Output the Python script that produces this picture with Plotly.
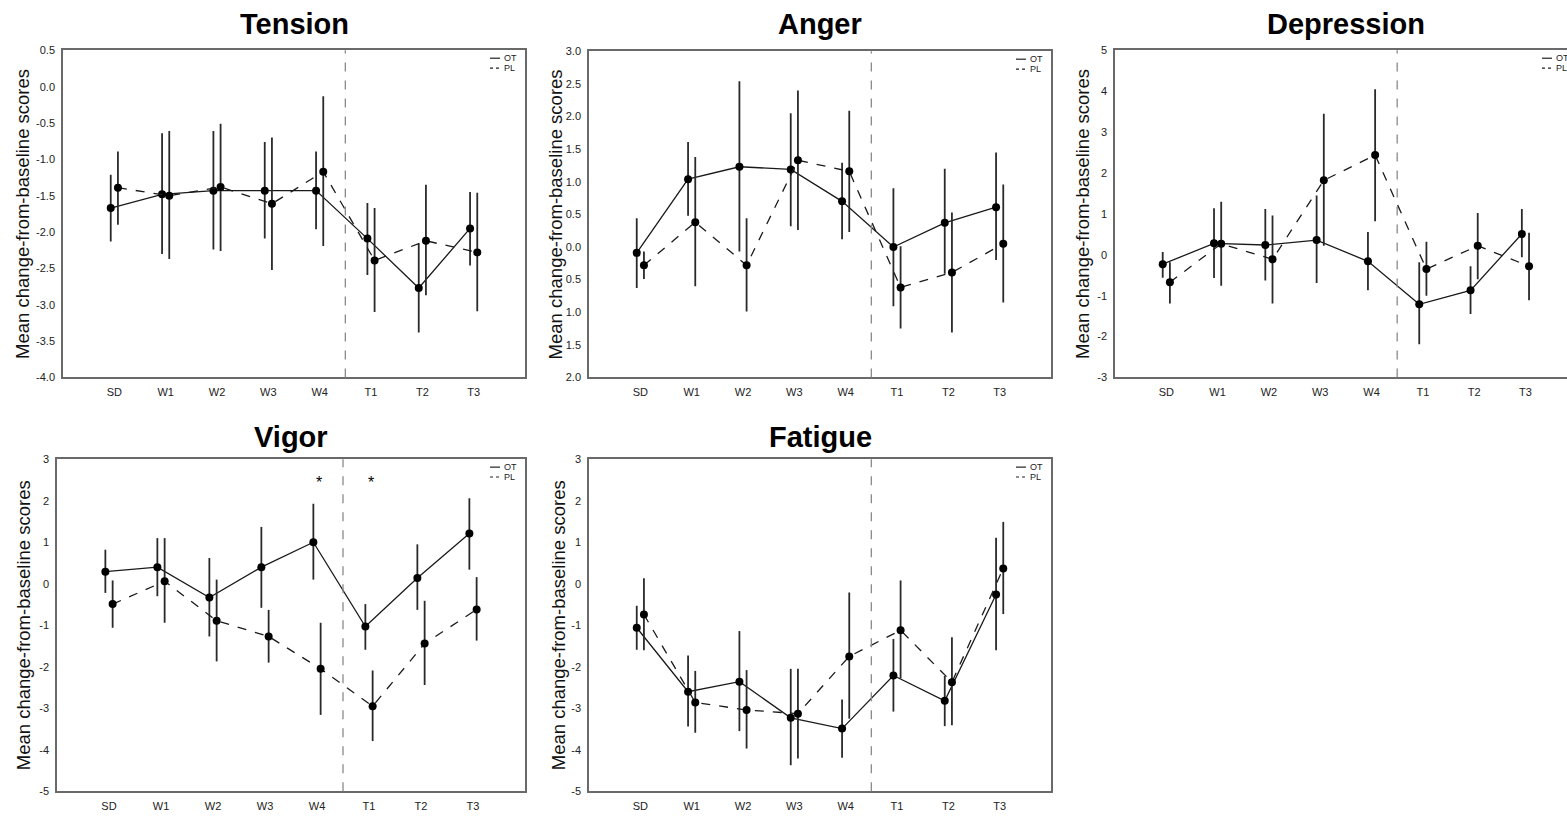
import plotly.graph_objects as go

W, H = 1567, 817

categories = ["SD", "W1", "W2", "W3", "W4", "T1", "T2", "T3"]

# ---- Tension ----
tension_ot_mean = [-1.67, -1.48, -1.43, -1.43, -1.43, -2.09, -2.77, -1.95]
tension_ot_low = [-2.13, -2.30, -2.24, -2.09, -1.96, -2.59, -3.38, -2.46]
tension_ot_high = [-1.21, -0.64, -0.61, -0.76, -0.89, -1.60, -2.16, -1.45]
tension_pl_mean = [-1.39, -1.50, -1.38, -1.61, -1.17, -2.39, -2.12, -2.28]
tension_pl_low = [-1.90, -2.37, -2.26, -2.52, -2.19, -3.10, -2.87, -3.09]
tension_pl_high = [-0.89, -0.61, -0.51, -0.70, -0.13, -1.67, -1.35, -1.46]

# ---- Anger ----
anger_ot_mean = [-0.09, 1.04, 1.23, 1.19, 0.70, 0.00, 0.37, 0.61]
anger_ot_low = [-0.63, 0.48, -0.07, 0.32, 0.12, -0.91, -0.41, -0.20]
anger_ot_high = [0.44, 1.61, 2.54, 2.05, 1.29, 0.90, 1.20, 1.45]
anger_pl_mean = [-0.28, 0.38, -0.28, 1.33, 1.16, -0.62, -0.39, 0.05]
anger_pl_low = [-0.49, -0.60, -0.99, 0.26, 0.23, -1.25, -1.31, -0.85]
anger_pl_high = [-0.07, 1.38, 0.44, 2.40, 2.09, 0.01, 0.53, 0.96]

# ---- Depression ----
depression_ot_mean = [-0.23, 0.28, 0.24, 0.36, -0.16, -1.21, -0.87, 0.51]
depression_ot_low = [-0.56, -0.57, -0.63, -0.69, -0.87, -2.19, -1.45, -0.06]
depression_ot_high = [0.07, 1.14, 1.12, 1.45, 0.56, -0.18, -0.28, 1.12]
depression_pl_mean = [-0.67, 0.27, -0.11, 1.82, 2.44, -0.35, 0.22, -0.28]
depression_pl_low = [-1.19, -0.76, -1.19, 0.22, 0.82, -1.00, -0.60, -1.11]
depression_pl_high = [-0.18, 1.30, 0.96, 3.45, 4.05, 0.32, 1.02, 0.54]

# ---- Vigor ----
vigor_ot_mean = [0.29, 0.40, -0.33, 0.40, 1.00, -1.03, 0.14, 1.21]
vigor_ot_low = [-0.22, -0.30, -1.27, -0.58, 0.10, -1.59, -0.63, 0.34]
vigor_ot_high = [0.82, 1.10, 0.62, 1.37, 1.93, -0.49, 0.95, 2.06]
vigor_pl_mean = [-0.49, 0.06, -0.89, -1.27, -2.05, -2.95, -1.44, -0.62]
vigor_pl_low = [-1.06, -0.94, -1.87, -1.90, -3.16, -3.79, -2.44, -1.37]
vigor_pl_high = [0.08, 1.10, 0.10, -0.63, -0.94, -2.09, -0.41, 0.16]

# ---- Fatigue ----
fatigue_ot_mean = [-1.06, -2.60, -2.36, -3.23, -3.49, -2.21, -2.82, -0.26]
fatigue_ot_low = [-1.59, -3.44, -3.55, -4.37, -4.19, -3.08, -3.43, -1.60]
fatigue_ot_high = [-0.53, -1.73, -1.14, -2.05, -2.79, -1.33, -2.22, 1.11]
fatigue_pl_mean = [-0.74, -2.86, -3.04, -3.13, -1.75, -1.12, -2.37, 0.37]
fatigue_pl_low = [-1.60, -3.59, -3.97, -4.21, -3.25, -2.28, -3.41, -0.73]
fatigue_pl_high = [0.13, -2.10, -2.08, -2.05, -0.21, 0.08, -1.29, 1.49]

# significance markers (Vigor)
vigor_sig_categories = ["W4", "T1"]
vigor_sig_y = 2.45

tension_ticks = [0.5, 0.0, -0.5, -1.0, -1.5, -2.0, -2.5, -3.0, -3.5, -4.0]
tension_ticktext = ["0.5", "0.0", "-0.5", "-1.0", "-1.5", "-2.0", "-2.5", "-3.0", "-3.5", "-4.0"]
anger_ticks = [3.0, 2.5, 2.0, 1.5, 1.0, 0.5, 0.0, -0.5, -1.0, -1.5, -2.0]
anger_ticktext = ["3.0", "2.5", "2.0", "1.5", "1.0", "0.5", "0.0", "0.5", "1.0", "1.5", "2.0"]
depression_ticks = [5, 4, 3, 2, 1, 0, -1, -2, -3]
depression_ticktext = ["5", "4", "3", "2", "1", "0", "-1", "-2", "-3"]
vf_ticks = [3, 2, 1, 0, -1, -2, -3, -4, -5]
vf_ticktext = ["3", "2", "1", "0", "-1", "-2", "-3", "-4", "-5"]

FONT = "Liberation Sans, Arial, sans-serif"
INK = "#1a1a1a"
AXIS = "#6a6a6a"
OFF = 0.07


def px(x):
    return x / W


def py(y):
    return 1 - y / H


panels = [
    dict(title="Tension", box=(63, 45, 525, 377), xr=[-1, 8], yr=[-4.0, 0.5], top_row=True,
         ticks=tension_ticks, ticktext=tension_ticktext, ylab_x=23, mirror_y=True,
         ot=(tension_ot_mean, tension_ot_low, tension_ot_high),
         pl=(tension_pl_mean, tension_pl_low, tension_pl_high)),
    dict(title="Anger", box=(589, 46, 1051, 377), xr=[-1, 8], yr=[-2.0, 3.0], top_row=True,
         ticks=anger_ticks, ticktext=anger_ticktext, ylab_x=555, mirror_y=True,
         ot=(anger_ot_mean, anger_ot_low, anger_ot_high),
         pl=(anger_pl_mean, anger_pl_low, anger_pl_high)),
    dict(title="Depression", box=(1115, 45, 1567, 377), xr=[-1, 7.81], yr=[-3, 5], top_row=True,
         ticks=depression_ticks, ticktext=depression_ticktext, ylab_x=1083, mirror_y=False,
         ot=(depression_ot_mean, depression_ot_low, depression_ot_high),
         pl=(depression_pl_mean, depression_pl_low, depression_pl_high), full_right=1577),
    dict(title="Vigor", box=(57, 460, 525, 797), xr=[-1, 8], yr=[-5, 3], top_row=False,
         ticks=vf_ticks, ticktext=vf_ticktext, ylab_x=23, mirror_y=True,
         ot=(vigor_ot_mean, vigor_ot_low, vigor_ot_high),
         pl=(vigor_pl_mean, vigor_pl_low, vigor_pl_high)),
    dict(title="Fatigue", box=(589, 460, 1051, 797), xr=[-1, 8], yr=[-5, 3], top_row=False,
         ticks=vf_ticks, ticktext=vf_ticktext, ylab_x=558, mirror_y=True,
         ot=(fatigue_ot_mean, fatigue_ot_low, fatigue_ot_high),
         pl=(fatigue_pl_mean, fatigue_pl_low, fatigue_pl_high)),
]

fig = go.Figure()
annotations = []
shapes = []
layout_axes = {}

for i, p in enumerate(panels, start=1):
    xa = "x" if i == 1 else f"x{i}"
    ya = "y" if i == 1 else f"y{i}"
    x0, y0, x1, y1 = p["box"]
    n = len(categories)
    for key, sign, dash in (("ot", -1, "solid"), ("pl", 1, "dash")):
        mean, low, high = p[key]
        xs = [k + sign * OFF for k in range(n)]
        fig.add_trace(go.Scatter(
            x=xs, y=mean, xaxis=xa, yaxis=ya, mode="lines+markers",
            line=dict(color=INK, width=1.3, dash=dash),
            marker=dict(color="black", size=8),
            error_y=dict(type="data", symmetric=False,
                         array=[h - m for h, m in zip(high, mean)],
                         arrayminus=[m - l for m, l in zip(mean, low)],
                         color="#2a2a2a", thickness=1.8, width=0),
            showlegend=False, hoverinfo="skip"))

    xkey = "xaxis" if i == 1 else f"xaxis{i}"
    ykey = "yaxis" if i == 1 else f"yaxis{i}"
    layout_axes[xkey] = dict(
        domain=[px(x0), px(x1)], range=p["xr"], anchor=ya,
        tickmode="array", tickvals=list(range(len(categories))), ticktext=categories,
        showline=True, mirror=True, linecolor=AXIS, linewidth=1.5,
        showgrid=False, zeroline=False, ticks="", ticklabelstandoff=4,
        tickfont=dict(family=FONT, size=11, color="#222"))
    layout_axes[ykey] = dict(
        domain=[py(y1), py(y0)], range=p["yr"], anchor=xa,
        tickmode="array", tickvals=p["ticks"], ticktext=p["ticktext"],
        showline=True, mirror=p["mirror_y"], linecolor=AXIS, linewidth=1.5,
        showgrid=False, zeroline=False, ticks="", ticklabelstandoff=4,
        tickfont=dict(family=FONT, size=11, color="#222"))

    # vertical separator between W4 and T1
    shapes.append(dict(type="line", xref=xa, yref=f"{ya} domain", x0=4.5, x1=4.5, y0=0, y1=1,
                       line=dict(color="#8a8a8a", width=1.3, dash="dash")))

    # title
    full_right = p.get("full_right", x1)
    if p["top_row"]:
        ty, yanc = 1.0, "top"
    else:
        ty, yanc = py(456), "bottom"
    annotations.append(dict(text=f"<b>{p['title']}</b>", xref="paper", yref="paper",
                            x=px((x0 + full_right) / 2), y=ty,
                            xanchor="center", yanchor=yanc, showarrow=False,
                            font=dict(family=FONT, size=29, color="black")))
    # y-axis title
    annotations.append(dict(text="Mean change-from-baseline scores", xref="paper", yref="paper",
                            x=px(p["ylab_x"]), y=py((y0 + y1) / 2), textangle=-90,
                            xanchor="center", yanchor="middle", showarrow=False,
                            font=dict(family=FONT, size=18.5, color="#111")))

    # small in-plot legend
    lr = full_right
    for j, (lab, dash) in enumerate((("OT", "solid"), ("PL", "dot"))):
        ly = y0 + 8 + j * 10
        shapes.append(dict(type="line", xref="paper", yref="paper",
                           x0=px(lr - 35), x1=px(lr - 25), y0=py(ly), y1=py(ly),
                           line=dict(color="#222", width=1.2, dash=dash)))
        annotations.append(dict(text=lab, xref="paper", yref="paper",
                                x=px(lr - 23), y=py(ly), xanchor="left", yanchor="middle",
                                showarrow=False, font=dict(family=FONT, size=9, color="#222")))

# significance asterisks on Vigor
for c in vigor_sig_categories:
    annotations.append(dict(text="*", xref="x4", yref="y4", x=categories.index(c) + 0.03,
                            y=vigor_sig_y, showarrow=False, xanchor="center", yanchor="middle",
                            font=dict(family=FONT, size=16, color="black")))

fig.update_layout(
    width=W, height=H, margin=dict(l=0, r=0, t=0, b=0),
    paper_bgcolor="white", plot_bgcolor="white",
    showlegend=False, annotations=annotations, shapes=shapes,
    **layout_axes)

fig.write_html("out.html")
